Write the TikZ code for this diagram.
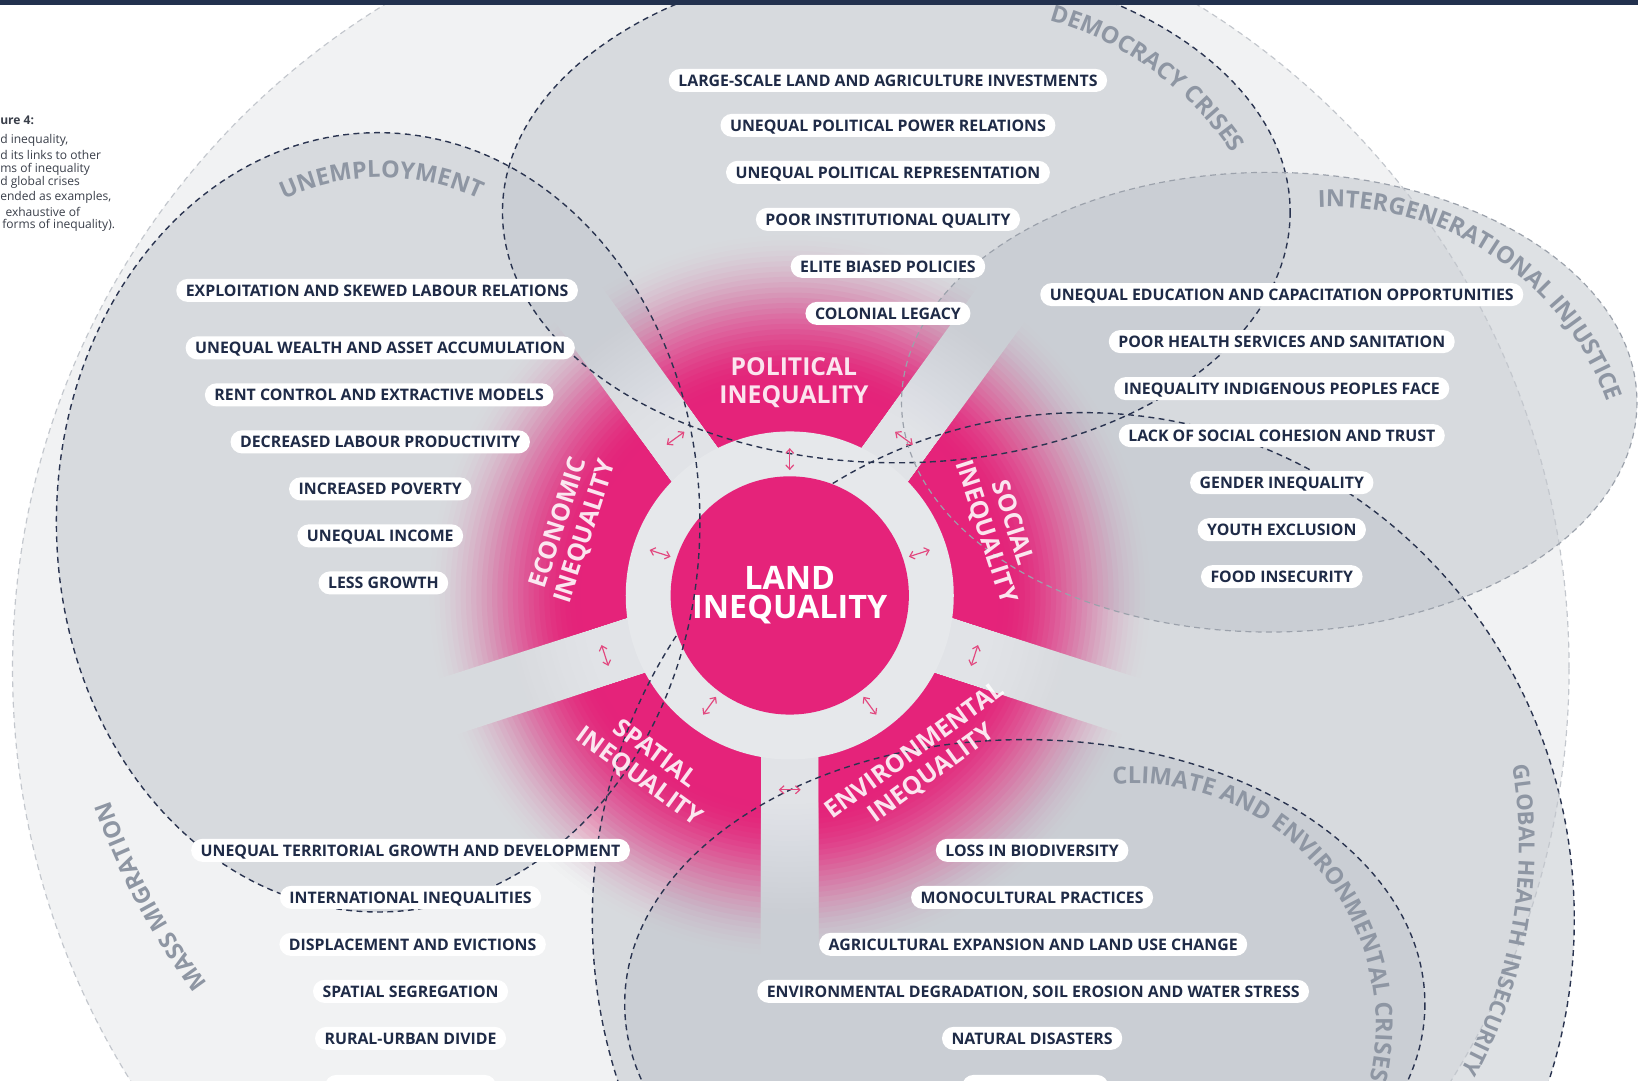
\documentclass[tikz,border=0pt]{standalone}
\usepackage{fontspec}
\setmainfont{Open Sans}
\usetikzlibrary{calc,decorations.text,arrows.meta}

\definecolor{navy}{HTML}{1F2B47}
\definecolor{topbar}{HTML}{22314E}
\definecolor{dashdark}{HTML}{2A3450}
\definecolor{dashmid}{HTML}{9BA1AB}
\definecolor{dashlight}{HTML}{C3C7CD}
\definecolor{crisisgray}{HTML}{8E96A3}
\definecolor{migfill}{HTML}{F1F2F3}
\definecolor{zonefill}{HTML}{BFC4CB}
\definecolor{pinkc}{HTML}{E5237A}
\definecolor{ringc}{HTML}{E6E8EB}
\definecolor{spokec}{HTML}{E1E3E7}
\definecolor{linkpink}{HTML}{E2487F}
\definecolor{captext}{HTML}{3A3F4A}

\newcommand\itemfont{\fontsize{10.8}{12}\selectfont\bfseries}
\newcommand\crisisfont{\fontsize{16}{16}\selectfont\bfseries}
\newcommand\sectorfont{\fontsize{16.8}{19}\selectfont\bfseries}
\newcommand\hubfont{\fontsize{22}{20}\selectfont\bfseries}
\newcommand\capfont{\fontsize{8.2}{9.6}\selectfont}

\begin{document}
\begin{tikzpicture}%
[x=0.025cm, y=-0.025cm,%
item/.style={fill=white, rounded corners=7.8pt, text=navy, font=\itemfont, inner xsep=6.5pt, inner ysep=4pt, text height=7.7pt, text depth=0pt},%
sectorlabel/.style={text=white, text opacity=0.88, font=\sectorfont, align=center},%
crisis/.style={decorate, decoration={text along path, text align=center, text color=crisisgray, text={|\crisisfont|#1}}},%
darkline/.style={draw=dashdark, line width=0.95pt, dash pattern=on 4pt off 3pt},%
midline/.style={draw=dashmid, line width=0.8pt, dash pattern=on 4pt off 3pt},%
lightline/.style={draw=dashlight, line width=0.8pt, dash pattern=on 4pt off 3pt},%
zone/.style={fill=zonefill, fill opacity=0.5},%
link/.style={draw=linkpink, line width=0.8pt, >={Straight Barb[length=3pt,width=5.5pt]}, <->},%
caption/.style={anchor=west, inner sep=0pt, text=captext, font=\capfont}]

\clip (0,0) rectangle (1568,1034);
\fill[white] (0,0) rectangle (1568,1034);

% crises
\fill[migfill] (757,640) circle (745);
\fill[zone] (362,500) ellipse [x radius=308, y radius=373];
\fill[zone] (858,203) ellipse [x radius=377, y radius=240];
\fill[zone] (1215,385) ellipse [x radius=352, y radius=220];
\fill[zone] (1037,880) ellipse [x radius=470, y radius=485];
\fill[zone] (981,961) ellipse [x radius=383, y radius=253];

% wheel, stacked discs fading outwards
\coordinate (hub) at (756,570);
\foreach \r in {350,345,...,200}{
  \pgfmathsetmacro\fa{0.5*(1+cos(180*min(1,max(0,(\r-200)/150))))}
  \pgfmathsetmacro\fb{0.5*(1+cos(180*min(1,max(0,(\r-195)/150))))}
  \pgfmathsetmacro\op{1-(1-\fa)/(1-\fb)}
  \fill[spokec, fill opacity=\op] (hub) circle (\r);
}
\foreach \a in {18,90,162,234,306}{
  \begin{scope}
    \clip ($(hub)+(\a+36:47.6)$) -- ($(hub)+(\a:700)+(\a+90:28)$) -- ($(hub)+(\a+36:1000)$) -- ($(hub)+(\a+72:700)+(\a-18:28)$) -- cycle;
    \foreach \r in {350,345,...,200}{
      \pgfmathsetmacro\fa{0.5*(1+cos(180*min(1,max(0,(\r-200)/150))))}
      \pgfmathsetmacro\fb{0.5*(1+cos(180*min(1,max(0,(\r-195)/150))))}
      \pgfmathsetmacro\op{1-(1-\fa)/(1-\fb)}
      \fill[pinkc, fill opacity=\op] (hub) circle (\r);
    }
  \end{scope}
}
\fill[ringc] (hub) circle (157);
\draw[darkline] (1037,880) ellipse [x radius=470, y radius=485];
\node[circle, fill=pinkc, minimum size=5.7cm, text=white, font=\hubfont, align=center] (land) at (hub) {LAND\\INEQUALITY};

\draw[lightline] (757,640) circle (745);
\draw[darkline] (362,500) ellipse [x radius=308, y radius=373];
\draw[darkline] (858,203) ellipse [x radius=377, y radius=240];
\draw[midline] (1215,385) ellipse [x radius=352, y radius=220];
\draw[darkline] (981,961) ellipse [x radius=383, y radius=253];

% links
\foreach \a in {54,126,198,270,342}{
  \coordinate (in\a) at ($(hub)+(\a:120)$);
  \coordinate (out\a) at ($(hub)+(\a:141)$);
  \draw[link] (in\a) -- (out\a);
}
\foreach \a in {18,90,162,234,306}{
  \coordinate (cw\a) at ($(hub)+(\a:186)+(\a-90:10.5)$);
  \coordinate (ccw\a) at ($(hub)+(\a:186)+(\a+90:10.5)$);
  \draw[link] (cw\a) -- (ccw\a);
}

\node[sectorlabel] (political) at (760,366) {POLITICAL\\INEQUALITY};
\node[sectorlabel, rotate=72] (economic) at (548,505) {ECONOMIC\\INEQUALITY};
\node[sectorlabel, rotate=-72] (social) at (956,505) {SOCIAL\\INEQUALITY};
\node[sectorlabel, rotate=-36] (spatial) at (619,733) {SPATIAL\\INEQUALITY};
\node[sectorlabel, rotate=36] (environmental) at (884,730) {ENVIRONMENTAL\\INEQUALITY};

% crisis names
\path[crisis=UNEMPLOYMENT] ($(365,391)+(-135:221)$) arc[start angle=-135, end angle=-45, radius=221];
\path[crisis=DEMOCRACY CRISES] ($(920,320)+(-100:312)$) arc[start angle=-100, end angle=-8, radius=312];
\path[crisis=INTERGENERATIONAL INJUSTICE] ($(1273,480)+(-100:282)$) arc[start angle=-100, end angle=-12, radius=282];
\path[crisis=CLIMATE AND ENVIRONMENTAL CRISES] ($(1085,982)+(-100:232)$) arc[start angle=-100, end angle=18, radius=232];
\path[crisis={|\fontsize{15}{15}\selectfont\bfseries|GLOBAL HEALTH INSECURITY}] ($(1010,810)+(-22:444)$) arc[start angle=-22, end angle=41, radius=444];
\path[crisis=MASS MIGRATION] ($(722,551)+(134:653)$) arc[start angle=134, end angle=170, radius=653];

% political
\node[item] (pol1) at (850,77) {LARGE-SCALE LAND AND AGRICULTURE INVESTMENTS};
\node[item] (pol2) at (850,120) {UNEQUAL POLITICAL POWER RELATIONS};
\node[item] (pol3) at (850,165) {UNEQUAL POLITICAL REPRESENTATION};
\node[item] (pol4) at (850,210) {POOR INSTITUTIONAL QUALITY};
\node[item] (pol5) at (850,255) {ELITE BIASED POLICIES};
\node[item] (pol6) at (850,300) {COLONIAL LEGACY};

% economic
\node[item] (eco1) at (361,278) {EXPLOITATION AND SKEWED LABOUR RELATIONS};
\node[item] (eco2) at (364,333) {UNEQUAL WEALTH AND ASSET ACCUMULATION};
\node[item] (eco3) at (363,378) {RENT CONTROL AND EXTRACTIVE MODELS};
\node[item] (eco4) at (364,423) {DECREASED LABOUR PRODUCTIVITY};
\node[item] (eco5) at (364,468) {INCREASED POVERTY};
\node[item] (eco6) at (364,513) {UNEQUAL INCOME};
\node[item] (eco7) at (367,558) {LESS GROWTH};

% social
\node[item] (soc1) at (1227,282) {UNEQUAL EDUCATION AND CAPACITATION OPPORTUNITIES};
\node[item] (soc2) at (1227,327) {POOR HEALTH SERVICES AND SANITATION};
\node[item] (soc3) at (1227,372) {INEQUALITY INDIGENOUS PEOPLES FACE};
\node[item] (soc4) at (1227,417) {LACK OF SOCIAL COHESION AND TRUST};
\node[item] (soc5) at (1227,462) {GENDER INEQUALITY};
\node[item] (soc6) at (1227,507) {YOUTH EXCLUSION};
\node[item] (soc7) at (1227,552) {FOOD INSECURITY};

% spatial
\node[item] (spa1) at (393,814) {UNEQUAL TERRITORIAL GROWTH AND DEVELOPMENT};
\node[item] (spa2) at (393,859) {INTERNATIONAL INEQUALITIES};
\node[item] (spa3) at (395,904) {DISPLACEMENT AND EVICTIONS};
\node[item] (spa4) at (393,949) {SPATIAL SEGREGATION};
\node[item] (spa5) at (393,994) {RURAL-URBAN DIVIDE};
\node[item, minimum width=4.1cm] (spa6) at (393,1040) {};

% environmental
\node[item] (env1) at (988,814) {LOSS IN BIODIVERSITY};
\node[item] (env2) at (988,859) {MONOCULTURAL PRACTICES};
\node[item] (env3) at (989,904) {AGRICULTURAL EXPANSION AND LAND USE CHANGE};
\node[item] (env4) at (989,949) {ENVIRONMENTAL DEGRADATION, SOIL EROSION AND WATER STRESS};
\node[item] (env5) at (988,994) {NATURAL DISASTERS};
\node[item, minimum width=3.5cm] (env6) at (991,1040) {};

% caption
\node[caption, font=\capfont\bfseries] (cap0) at (0,115) {ure 4:};
\node[caption] (cap1) at (0,134) {d inequality,};
\node[caption] (cap2) at (0,148) {d its links to other};
\node[caption] (cap3) at (0,162) {ms of inequality};
\node[caption] (cap4) at (0,175) {d global crises};
\node[caption] (cap5) at (0,189) {ended as examples,};
\node[caption] (cap6) at (5,203) {exhaustive of};
\node[caption] (cap7) at (2,216) {forms of inequality).};

\fill[topbar] (0,0) rectangle (1568,5);
\end{tikzpicture}
\end{document}
